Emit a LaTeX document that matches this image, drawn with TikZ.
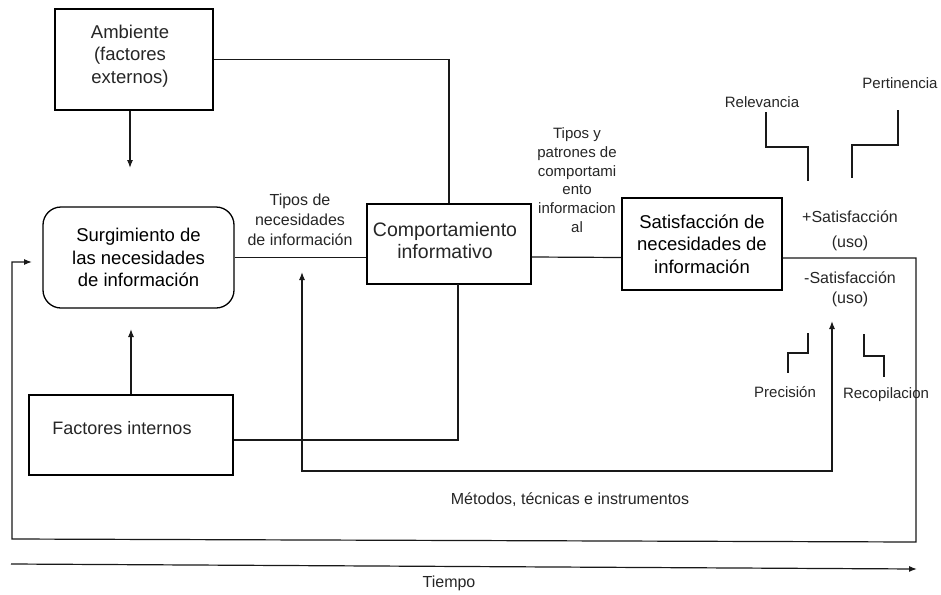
\documentclass[tikz,border=0pt]{standalone}
\usepackage{fontspec}
\setmainfont{Liberation Sans}
\usetikzlibrary{arrows.meta,calc}
\begin{document}
\begin{tikzpicture}[x=1pt,y=-1pt,
  line width=1.2pt,
  box/.style={draw=black,line width=1.3pt,inner sep=0pt,align=center},
  rbox/.style={box,rounded corners=18pt},
  big/.style={font=\fontsize{18.5}{22.5}\selectfont},
  lbl/.style={inner sep=0pt,align=center,text=black!85},
  arr/.style={-{Latex[length=8pt,width=6pt]}},
  darr/.style={{Latex[length=8pt,width=6pt]}-{Latex[length=8pt,width=6pt]}},
  conn/.style={draw=black!90,line width=1.2pt}
]
\useasboundingbox (0,0) rectangle (941,594);
\fill[white] (0,0) rectangle (941,594);

% boxes
\node[box,big,minimum width=158pt,minimum height=101pt] (amb) at (134,59.5) {};
\node[lbl,big] at (130,56) {Ambiente\\(factores\\externos)};
\node[rbox,big,minimum width=191pt,minimum height=101pt] (surg) at (138.5,257.5) {Surgimiento de\\las necesidades\\de información};
\node[box,minimum width=164pt,minimum height=80pt] (comp) at (449,244) {};
\node[lbl,font=\fontsize{19.5}{22.5}\selectfont] (compt) at (445,240.5) {Comportamiento\\informativo};
\node[box,big,minimum width=160pt,minimum height=92pt] (sat) at (702,244) {Satisfacción de\\necesidades de\\información};
\node[box,minimum width=204pt,minimum height=80pt] (fact) at (131,435) {};
\node[lbl,font=\fontsize{18}{22}\selectfont] (factt) at (122,428) {Factores internos};

% labels
\node[lbl,font=\fontsize{16}{20}\selectfont] (tn) at (300,220) {Tipos de\\necesidades\\de información};
\node[lbl,font=\fontsize{15}{18.7}\selectfont] (tp) at (577,180) {Tipos y\\patrones de\\comportami\\ento\\informacion\\al};
\node[lbl,font=\fontsize{16}{25}\selectfont] (ps) at (850,230.5) {+Satisfacción\\(uso)};
\node[lbl,font=\fontsize{16}{19.5}\selectfont] (ns) at (850,289.5) {-Satisfacción\\(uso)};
\node[lbl,font=\fontsize{15}{18}\selectfont] (rel) at (762,102) {Relevancia};
\node[lbl,font=\fontsize{15}{18}\selectfont] (per) at (900,83) {Pertinencia};
\node[lbl,font=\fontsize{15}{18}\selectfont] (pre) at (785,392) {Precisión};
\node[lbl,font=\fontsize{15}{18}\selectfont] (rec) at (886,395) {Recopilacion};
\node[lbl,font=\fontsize{16}{20}\selectfont] (met) at (570,500) {Métodos, técnicas e instrumentos};
\node[lbl,font=\fontsize{16}{20}\selectfont] (tie) at (449,583) {Tiempo};

% coordinates
\coordinate (ambTip) at (130,168);
\coordinate (factTip) at (131,329);
\coordinate (factIn) at (458,284);
\coordinate (m1) at (302,272);
\coordinate (m2) at (302,471);
\coordinate (m3) at (832,471);
\coordinate (m4) at (832,321);
\coordinate (lpR) at (916,258);
\coordinate (lpBR) at (916,542);
\coordinate (lpBL) at (12,539);
\coordinate (lpL) at (12,262);
\coordinate (lpEnd) at (32,262);
\coordinate (t1) at (11,564);
\coordinate (t2) at (917,569);

% connectors
\draw[conn,arr] (amb.south -| ambTip) -- (ambTip);
\draw[conn] (amb.east) -| (comp.north);
\draw[conn] (surg.east) -- (surg.east -| comp.west);
\draw[conn] (comp.east |- 0,257) -- (sat.west |- 0,257.5);
\draw[conn,arr] (fact.north) -- (factTip);
\draw[conn] (fact.east |- 0,440) -| (factIn);
\draw[conn,darr] (m1) -- (m2) -- (m3) -- (m4);
\draw[conn,arr] (sat.east |- lpR) -- (lpR) -- (lpBR) -- (lpBL) -- (lpL) -- (lpEnd);
\draw[conn,arr] (t1) -- (t2);

% small bracket lines
\draw[conn] (rel.south -| 766,0) ++(0,4) |- (808,147) -- (808,181);
\draw[conn] (898,110) |- (852,145) -- (852,178);
\draw[conn] (808,333) |- (788,353) -- (788,373);
\draw[conn] (864,334) |- (884,356) -- (884,377);
\end{tikzpicture}
\end{document}
